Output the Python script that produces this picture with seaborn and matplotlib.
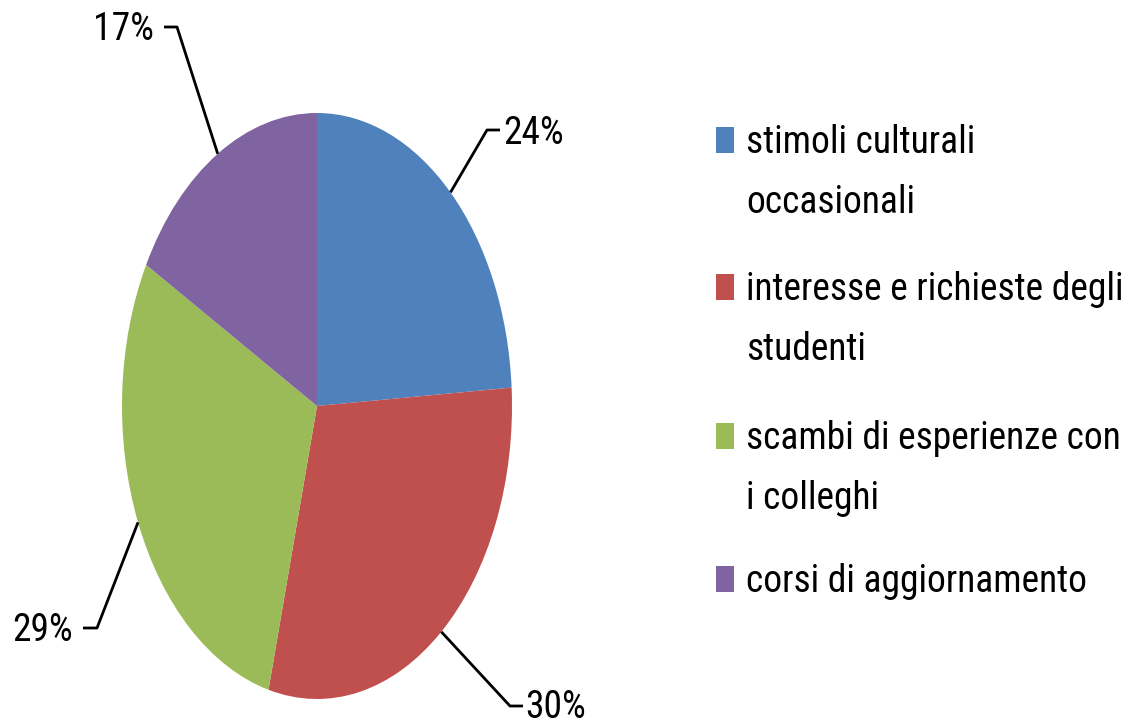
import matplotlib
matplotlib.use("Agg")
import matplotlib.pyplot as plt
from matplotlib import font_manager
from matplotlib.patches import Rectangle
import numpy as np
import seaborn as sns

# ---- data ----
categories = [
    "stimoli culturali\noccasionali",
    "interesse e richieste degli\nstudenti",
    "scambi di esperienze con\ni colleghi",
    "corsi di aggiornamento",
]
values = [24, 30, 29, 17]
pct_labels = ["24%", "30%", "29%", "17%"]
colors = ["#4F81BD", "#C0504D", "#9BBB59", "#8064A2"]

sns.set_theme(style="white")
names = {f.name for f in font_manager.fontManager.ttflist}
prefs = ["Liberation Sans Narrow", "Roboto Condensed", "Open Sans Condensed",
         "Archivo Narrow", "Barlow Semi Condensed", "Liberation Sans"]
chosen = next(p for p in prefs if p in names or p == "Liberation Sans")
plt.rcParams["font.family"] = [chosen, "DejaVu Sans"]

W, H = 1122, 727
fig = plt.figure(figsize=(W / 100, H / 100), dpi=100)
fig.patch.set_facecolor("white")

# pie geometry in pixels
cx, cy, rx, ry = 317, 406, 195, 293
ax = fig.add_axes([0, 0, 640 / W, 1])

def dx(px):
    return (px - cx) / rx

def dy(py):
    return (cy - py) / ry

pal = sns.color_palette(colors)
wedges, _ = ax.pie(values, colors=pal, startangle=90, counterclock=False,
                   radius=1, center=(0, 0), wedgeprops=dict(linewidth=0))
ax.set_xlim(dx(0), dx(640))
ax.set_ylim(dy(H), dy(0))
ax.set_aspect("auto")
ax.axis("off")

# label layout (pixels): elbow, end of horizontal tick, text position, alignment
layout = [
    dict(elbow=(487, 130), end=(500, 130), text=(503, 144), ha="left"),
    dict(elbow=(510, 706), end=(523, 706), text=(525, 718), ha="left"),
    dict(elbow=(97, 628), end=(83, 628), text=(73, 641), ha="right"),
    dict(elbow=(177, 27), end=(164, 27), text=(154, 40), ha="right"),
]
fs = 27
for w, lab, lay in zip(wedges, pct_labels, layout):
    ang = np.deg2rad((w.theta1 + w.theta2) / 2)
    ax_, ay_ = np.cos(ang), np.sin(ang)
    ex, ey = lay["elbow"]
    hx, hy = lay["end"]
    ax.plot([ax_, dx(ex), dx(hx)], [ay_, dy(ey), dy(hy)], color="black",
            lw=2, clip_on=False, solid_capstyle="butt")
    tx, ty = lay["text"]
    ax.text(dx(tx), dy(ty), lab, ha=lay["ha"], va="baseline", fontsize=fs,
            color="black", clip_on=False)

# legend (manual)
sq_x0, sq_w, sq_h = 716, 18, 26
sq_centers = [140, 287, 436, 579]
for cat, col, yc in zip(categories, colors, sq_centers):
    fig.patches.append(Rectangle((sq_x0 / W, 1 - (yc + sq_h / 2) / H), sq_w / W, sq_h / H,
                                 transform=fig.transFigure, facecolor=col, edgecolor="none"))
    for j, line in enumerate(cat.split("\n")):
        base = yc + 13 + j * 60
        fig.text(746 / W, 1 - base / H, line, ha="left", va="baseline",
                 fontsize=fs, color="black")

fig.savefig("out.png", dpi=100, facecolor="white")
